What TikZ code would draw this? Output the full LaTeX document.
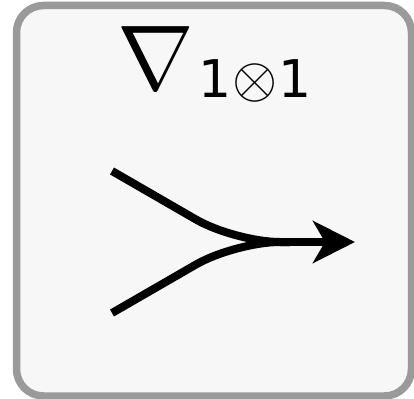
\documentclass[tikz,border=0pt]{standalone}
\usepackage{fix-cm}
\usepackage{fontspec}
\setmainfont{DejaVu Sans}
\usetikzlibrary{arrows.meta,calc,positioning}
\definecolor{boxfill}{HTML}{F7F7F7}
\definecolor{boxline}{HTML}{9A9A9A}

\begin{document}
\begin{tikzpicture}[x=1pt,y=-1pt,
  wire/.style={line width=8pt},
  tip/.style={-{Stealth[length=42pt,width=42pt,inset=12pt]}}]
  \useasboundingbox (0,0) rectangle (414,398);
  % frame
  \draw[boxline,fill=boxfill,line width=7.5pt,rounded corners=27pt]
    (16.5,5.5) rectangle (411.5,396);
  % label
  \node[inner sep=0pt,anchor=base west,font=\fontsize{92}{92}\selectfont]
    (nabla) at (117,90) {$\nabla$};
  \node[inner sep=0pt,anchor=base west,font=\fontsize{52}{52}\selectfont]
    (index) at ([xshift=4pt,yshift=-8pt]nabla.base east)
    {1\kern1pt{\fontsize{58}{58}\selectfont$\otimes$}\kern1pt1};
  % merging wires
  \coordinate (in1) at (112,171);
  \coordinate (in2) at (112,313);
  \coordinate (kink) at (235,242);
  \coordinate (merge) at (290,242);
  \coordinate (out) at (355,242);
  \draw[wire,rounded corners=45pt] (in1) -- (kink) -- (merge);
  \draw[wire,rounded corners=45pt] (in2) -- (kink) -- (merge);
  \draw[wire,tip] (merge) -- (out);
\end{tikzpicture}
\end{document}
